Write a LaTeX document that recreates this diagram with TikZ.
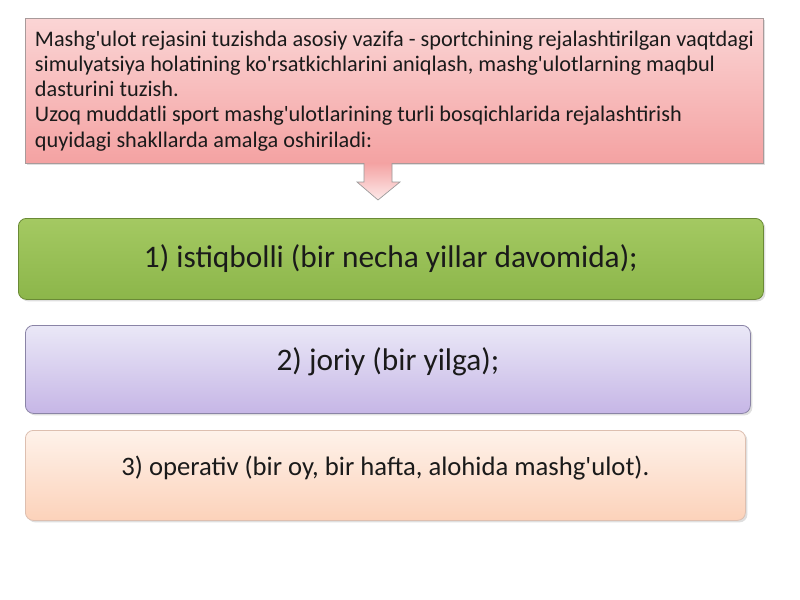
\documentclass[tikz,border=0pt]{standalone}
\usepackage{fontspec}
\setmainfont{Carlito}[Ligatures=TeXOff]
\usetikzlibrary{shadows}
\definecolor{pinkT}{HTML}{FBD5D5}
\definecolor{pinkB}{HTML}{F4A2A2}
\definecolor{pinkD}{HTML}{A89A9A}
\definecolor{grnT}{HTML}{A4C962}
\definecolor{grnB}{HTML}{8CB64A}
\definecolor{grnD}{HTML}{6A8A36}
\definecolor{lavT}{HTML}{EAE8F7}
\definecolor{lavB}{HTML}{C6B6E6}
\definecolor{lavD}{HTML}{8A84A6}
\definecolor{pchT}{HTML}{FEF2EA}
\definecolor{pchB}{HTML}{FCD2BA}
\definecolor{pchD}{HTML}{DDBFB0}
\definecolor{txt}{HTML}{1A1A1A}
\tikzset{
  shadowed/.style={drop shadow={opacity=0.25,shadow xshift=1.5pt,shadow yshift=-1.5pt}},
  topbox/.style={shadowed,draw=pinkD,line width=0.6pt,top color=pinkT,bottom color=pinkB,
    anchor=north west,minimum width=553.5pt,minimum height=108.75pt,inner xsep=6pt,inner ysep=1pt,
    align=left,text=txt,font=\fontsize{16.7}{18.9}\selectfont},
  stagebox/.style={shadowed,rounded corners=6pt,line width=0.6pt,anchor=north west,
    inner sep=0pt,align=center,text=txt},
}
\begin{document}
\begin{tikzpicture}[x=0.75pt,y=-0.75pt]
\useasboundingbox (0,0) rectangle (800,600);
\fill[white] (0,0) rectangle (800,600);

\node[topbox] (top) at (25,18) {Mashg'ulot rejasini tuzishda asosiy vazifa - sportchining rejalashtirilgan vaqtdagi\\
simulyatsiya holatining ko'rsatkichlarini aniqlash, mashg'ulotlarning maqbul\\
dasturini tuzish.\\
Uzoq muddatli sport mashg'ulotlarining turli bosqichlarida rejalashtirish\\
quyidagi shakllarda amalga oshiriladi:};

\node[stagebox,draw=grnD,top color=grnT,bottom color=grnB,minimum width=558.75pt,minimum height=60.75pt,
  font=\fontsize{23.5}{26}\selectfont] (s1) at (18,218) {1) istiqbolli (bir necha yillar davomida);};

\node[stagebox,draw=lavD,top color=lavT,bottom color=lavB,minimum width=543.75pt,minimum height=66pt,
  text depth=15pt,font=\fontsize{23.5}{26}\selectfont] (s2) at (25,325) {2) joriy (bir yilga);};

\node[stagebox,draw=pchD,top color=pchT,bottom color=pchB,minimum width=540pt,minimum height=67.5pt,
  text depth=14pt,font=\fontsize{20}{23}\selectfont] (s3) at (25,430) {3) operativ (bir oy, bir hafta, alohida mashg'ulot).};

% block arrow from top box down to first stage
\draw[draw=gray!80,line width=0.5pt,top color=pinkB,bottom color=pinkT!50]
  (364,163) -- (364,182) -- (357,182) -- (378,200) -- (400,182) -- (392,182) -- (392,163);
\end{tikzpicture}
\end{document}
